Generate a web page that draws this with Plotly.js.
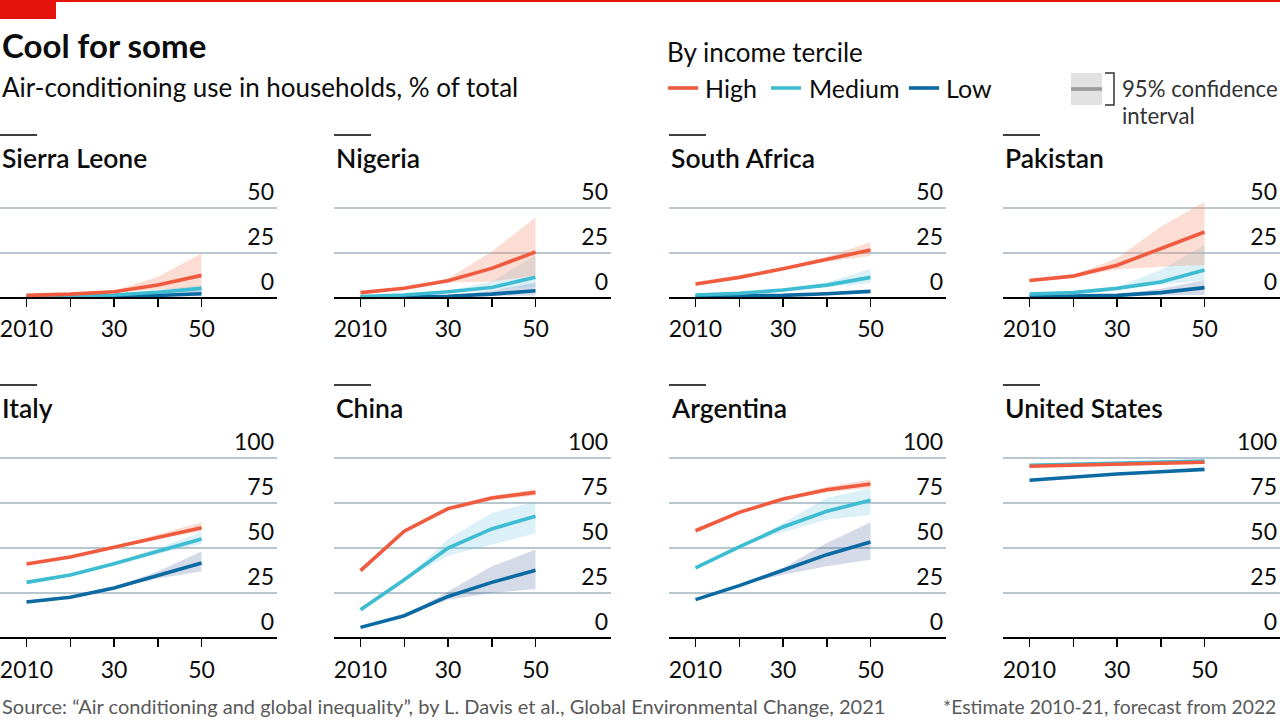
<!DOCTYPE html>
<html>
<head>
<meta charset="utf-8">
<script src="https://cdn.plot.ly/plotly-3.0.1.min.js"></script>
<style>
html,body{margin:0;padding:0;background:#fff;}
#chart{width:1280px;height:720px;}
</style>
</head>
<body>
<div id="chart"></div>
<script>
// ---------- DATA ----------
const years = [2010, 2020, 2030, 2040, 2050];
const xTickVals = [2010, 2020, 2030, 2040, 2050];
const xTickText = ['2010', '', '30', '', '50'];
const countries = ['Sierra Leone', 'Nigeria', 'South Africa', 'Pakistan', 'Italy', 'China', 'Argentina', 'United States'];
const terciles = ['High', 'Medium', 'Low'];

// Sierra Leone
const sierraHigh = [1.3, 2, 3.3, 7, 12.4];
const sierraHighLo = [1.3, 2, 3, 4.5, 5.5];
const sierraHighHi = [1.3, 2, 3.9, 11.7, 24.6];
const sierraMed = [0.8, 1, 1.5, 3, 5.2];
const sierraMedLo = [0.8, 1, 1.2, 2, 3.3];
const sierraMedHi = [0.8, 1, 1.8, 4.5, 7];
const sierraLow = [0.3, 0.4, 0.6, 1.2, 2.2];
const sierraLowLo = [0.3, 0.4, 0.4, 0.6, 0.8];
const sierraLowHi = [0.3, 0.4, 0.8, 2.8, 6];
// Nigeria
const nigeriaHigh = [2.8, 5.2, 9.4, 16.3, 25.4];
const nigeriaHighLo = [2.8, 5.2, 8.5, 9, 12];
const nigeriaHighHi = [2.8, 5.2, 10.7, 25.6, 44.4];
const nigeriaMed = [0.6, 1.5, 3.3, 5.7, 11.3];
const nigeriaMedLo = [0.6, 1.5, 3, 4.5, 6];
const nigeriaMedHi = [0.6, 1.5, 3.8, 9, 23.7];
const nigeriaLow = [0.2, 0.3, 0.8, 2, 3.9];
const nigeriaLowLo = [0.2, 0.3, 0.5, 1, 1.2];
const nigeriaLowHi = [0.2, 0.3, 1.2, 4, 8.3];
// South Africa
const safricaHigh = [7.6, 11.3, 16.1, 21.3, 26.5];
const safricaHighLo = [7.6, 11.3, 16, 20, 23.1];
const safricaHighHi = [7.6, 11.3, 16.4, 22.8, 30.9];
const safricaMed = [1.5, 2.4, 4.3, 7, 11.3];
const safricaMedLo = [1.5, 2.4, 4, 5.8, 8];
const safricaMedHi = [1.5, 2.4, 4.8, 8.5, 16.1];
const safricaLow = [0.7, 0.8, 1.3, 2.2, 3.5];
const safricaLowLo = [0.7, 0.8, 1.1, 1.8, 2.8];
const safricaLowHi = [0.7, 0.8, 1.5, 2.7, 4.3];
// Pakistan
const pakistanHigh = [9.6, 12, 18, 27.4, 36.5];
const pakistanHighLo = [9.6, 11.5, 15.7, 17.2, 18.1];
const pakistanHighHi = [9.6, 12.5, 21.9, 39.4, 53.3];
const pakistanMed = [2, 2.8, 5.2, 8.7, 15.4];
const pakistanMedLo = [2, 2.8, 4.6, 7, 9.8];
const pakistanMedHi = [2, 2.8, 6, 15.4, 29.3];
const pakistanLow = [0.5, 0.7, 1.3, 2.8, 5.6];
const pakistanLowLo = [0.5, 0.7, 1, 1.3, 1.5];
const pakistanLowHi = [0.5, 0.7, 1.8, 5, 9.8];
// Italy
const italyHigh = [41.1, 45, 50.4, 56.1, 61.3];
const italyHighLo = [41.1, 45, 50.2, 55, 59.3];
const italyHighHi = [41.1, 45, 50.8, 57.5, 64.3];
const italyMed = [30.9, 35, 41.3, 48.1, 55];
const italyMedLo = [30.9, 35, 41, 46.5, 52.4];
const italyMedHi = [30.9, 35, 41.8, 50, 58.7];
const italyLow = [20, 22.6, 27.8, 34.6, 41.7];
const italyLowLo = [20, 22.6, 27.5, 33, 37];
const italyLowHi = [20, 22.6, 28.3, 37, 48.1];
// China
const chinaHigh = [37.4, 59.3, 71.9, 77.8, 80.9];
const chinaHighLo = [37.4, 59.3, 70.5, 76.5, 79.2];
const chinaHighHi = [37.4, 59.3, 73, 79, 82.5];
const chinaMed = [15.7, 32.4, 50, 60.6, 67.6];
const chinaMedLo = [15.7, 32.4, 45.7, 51.9, 58];
const chinaMedHi = [15.7, 32.4, 55, 69.4, 75.9];
const chinaLow = [5.9, 12.4, 23.1, 30.9, 37.6];
const chinaLowLo = [5.9, 12.4, 21.3, 25, 27.2];
const chinaLowHi = [5.9, 12.4, 25.9, 39.8, 49.1];
// Argentina
const argentinaHigh = [59.6, 69.8, 77.2, 82.4, 85.6];
const argentinaHighLo = [59.6, 69.8, 76.5, 80.8, 83.3];
const argentinaHighHi = [59.6, 69.8, 78, 84, 88];
const argentinaMed = [38.9, 50.6, 61.7, 70.4, 76.5];
const argentinaMedLo = [38.9, 50.6, 58.7, 65.7, 68.5];
const argentinaMedHi = [38.9, 50.6, 63.9, 77.8, 83.3];
const argentinaLow = [21.3, 29.1, 37.6, 46.3, 53.3];
const argentinaLowLo = [21.3, 29.1, 35.2, 39.8, 43.5];
const argentinaLowHi = [21.3, 29.1, 38.9, 52.8, 64.3];
// United States
const usHigh = [95.4, 96, 96.5, 97, 97.6];
const usHighLo = [95.4, 96, 96.3, 96.7, 97.2];
const usHighHi = [95.4, 96, 96.7, 97.3, 98];
const usMed = [95.9, 96.5, 97.1, 97.7, 98.3];
const usMedLo = [95.9, 96.5, 96.9, 97.4, 97.9];
const usMedHi = [95.9, 96.5, 97.3, 98, 98.7];
const usLow = [87.6, 89.4, 91.1, 92.4, 93.7];
const usLowLo = [87.6, 89.4, 90.8, 92, 93.1];
const usLowHi = [87.6, 89.4, 91.4, 92.8, 94.3];

const topTicks = [0, 25, 50];
const bottomTicks = [0, 25, 50, 75, 100];

// ---------- BUILD ----------
const panels = [
  [sierraHigh, sierraHighLo, sierraHighHi, sierraMed, sierraMedLo, sierraMedHi, sierraLow, sierraLowLo, sierraLowHi],
  [nigeriaHigh, nigeriaHighLo, nigeriaHighHi, nigeriaMed, nigeriaMedLo, nigeriaMedHi, nigeriaLow, nigeriaLowLo, nigeriaLowHi],
  [safricaHigh, safricaHighLo, safricaHighHi, safricaMed, safricaMedLo, safricaMedHi, safricaLow, safricaLowLo, safricaLowHi],
  [pakistanHigh, pakistanHighLo, pakistanHighHi, pakistanMed, pakistanMedLo, pakistanMedHi, pakistanLow, pakistanLowLo, pakistanLowHi],
  [italyHigh, italyHighLo, italyHighHi, italyMed, italyMedLo, italyMedHi, italyLow, italyLowLo, italyLowHi],
  [chinaHigh, chinaHighLo, chinaHighHi, chinaMed, chinaMedLo, chinaMedHi, chinaLow, chinaLowLo, chinaLowHi],
  [argentinaHigh, argentinaHighLo, argentinaHighHi, argentinaMed, argentinaMedLo, argentinaMedHi, argentinaLow, argentinaLowLo, argentinaLowHi],
  [usHigh, usHighLo, usHighHi, usMed, usMedLo, usMedHi, usLow, usLowLo, usLowHi]
];

const W = 1280, H = 720;
const FONT = 'Lato, "Noto Sans", sans-serif';
const INK = '#0c0c0c';
const lineColors = {High: '#F05A3E', Medium: '#3EBCD2', Low: '#0B6AA2'};
const bandColors = {High: 'rgba(247,150,120,0.32)', Medium: 'rgba(110,200,225,0.25)', Low: 'rgba(60,85,150,0.22)'};
const colLeft = [0, 334, 669, 1003];
const panelW = 277;
const pxPerYear = 175 / 40;
const pxPerUnit = 1.8;
const rowZero = [297.7, 638];
const rowTop = [70, 118];
const rowBottom = -3;

const px = x => x / W;
const py = y => 1 - y / H;

const data = [];
const layout = {
  width: W, height: H,
  margin: {l: 0, r: 0, t: 0, b: 0},
  paper_bgcolor: '#fff', plot_bgcolor: 'rgba(0,0,0,0)',
  showlegend: false,
  font: {family: FONT, color: INK},
  shapes: [], annotations: []
};

panels.forEach((p, i) => {
  const row = Math.floor(i / 4), col = i % 4;
  const n = i + 1;
  const xa = 'x' + (n === 1 ? '' : n), ya = 'y' + (n === 1 ? '' : n);
  const xKey = 'xaxis' + (n === 1 ? '' : n), yKey = 'yaxis' + (n === 1 ? '' : n);
  const left = colLeft[col];
  const y0 = rowZero[row];
  const yTopPx = y0 - rowTop[row] * pxPerUnit;
  const yBotPx = y0 - rowBottom * pxPerUnit;
  const xMin = 2010 - 26.5 / pxPerYear;
  const xMax = xMin + panelW / pxPerYear;

  layout[xKey] = {
    domain: [px(left), px(left + panelW)],
    range: [xMin, xMax],
    anchor: 'free', position: py(y0),
    showgrid: false, zeroline: false,
    showline: true, linecolor: '#000', linewidth: 2,
    ticks: 'outside', ticklen: 8, tickwidth: 1.5, tickcolor: '#000',
    tickvals: xTickVals, ticktext: xTickText,
    tickfont: {family: FONT, size: 23, color: INK},
    ticklabelstandoff: 3,
    ticklabeloverflow: 'allow',
    fixedrange: true
  };
  layout[yKey] = {
    domain: [py(yBotPx), py(yTopPx)],
    range: [rowBottom, rowTop[row]],
    anchor: xa, side: 'right',
    showgrid: true, gridcolor: '#B7C6CF', gridwidth: 1.6,
    zeroline: false, showline: false, ticks: '',
    tickvals: row === 0 ? topTicks : bottomTicks,
    ticktext: (row === 0 ? topTicks : bottomTicks).map(String),
    ticklabelposition: 'inside top',
    ticklabeloverflow: 'allow',
    tickfont: {family: FONT, size: 23, color: INK},
    fixedrange: true
  };

  const [hi, hiLo, hiHi, md, mdLo, mdHi, lo, loLo, loHi] = p;
  const bands = [['Low', loLo, loHi], ['Medium', mdLo, mdHi], ['High', hiLo, hiHi]];
  bands.forEach(([name, a, b]) => {
    data.push({x: years, y: a, xaxis: xa, yaxis: ya, type: 'scatter', mode: 'lines',
      line: {width: 0, color: 'rgba(0,0,0,0)'}, hoverinfo: 'skip'});
    data.push({x: years, y: b, xaxis: xa, yaxis: ya, type: 'scatter', mode: 'lines',
      line: {width: 0, color: 'rgba(0,0,0,0)'}, fill: 'tonexty', fillcolor: bandColors[name], hoverinfo: 'skip'});
  });
  const lines = [['Low', lo], ['Medium', md], ['High', hi]];
  lines.forEach(([name, v]) => {
    data.push({x: years, y: v, xaxis: xa, yaxis: ya, type: 'scatter', mode: 'lines', name: name,
      line: {width: 3.6, color: lineColors[name]}});
  });

  // panel title + short rule
  const titleY = row === 0 ? 158 : 408;
  layout.shapes.push({type: 'line', xref: 'paper', yref: 'paper',
    x0: px(left), x1: px(left + 37), y0: py(titleY - 23), y1: py(titleY - 23),
    line: {color: '#000', width: 1.6}});
  layout.annotations.push({xref: 'paper', yref: 'paper', x: px(left), y: py(titleY),
    xanchor: 'left', yanchor: 'middle', showarrow: false, text: countries[i],
    font: {family: FONT, size: 26.5, color: INK, weight: 600}});
});

// top red rule and tag
layout.shapes.push({type: 'rect', xref: 'paper', yref: 'paper', x0: 0, x1: 1, y0: py(2), y1: 1,
  line: {width: 0}, fillcolor: '#E3120B'});
layout.shapes.push({type: 'rect', xref: 'paper', yref: 'paper', x0: 0, x1: px(56), y0: py(19), y1: 1,
  line: {width: 0}, fillcolor: '#E3120B'});

// headline
layout.annotations.push({xref: 'paper', yref: 'paper', x: 0, y: py(45), xanchor: 'left', yanchor: 'middle',
  showarrow: false, text: 'Cool for some', font: {family: FONT, size: 33, color: INK, weight: 700}});
layout.annotations.push({xref: 'paper', yref: 'paper', x: 0, y: py(87), xanchor: 'left', yanchor: 'middle',
  showarrow: false, text: 'Air-conditioning use in households, % of total', font: {family: FONT, size: 26, color: INK}});

// legend
layout.annotations.push({xref: 'paper', yref: 'paper', x: px(665), y: py(52), xanchor: 'left', yanchor: 'middle',
  showarrow: false, text: 'By income tercile', font: {family: FONT, size: 26, color: INK}});
const legItems = [['High', 668, 705], ['Medium', 771, 809], ['Low', 909, 946]];
legItems.forEach(([name, lx, tx]) => {
  layout.shapes.push({type: 'line', xref: 'paper', yref: 'paper', x0: px(lx), x1: px(lx + 30), y0: py(88), y1: py(88),
    line: {color: lineColors[name], width: 3.6}});
  layout.annotations.push({xref: 'paper', yref: 'paper', x: px(tx - 2), y: py(88), xanchor: 'left', yanchor: 'middle',
    showarrow: false, text: name, font: {family: FONT, size: 25, color: INK}});
});
layout.shapes.push({type: 'rect', xref: 'paper', yref: 'paper', x0: px(1071), x1: px(1102), y0: py(105), y1: py(73),
  line: {width: 0}, fillcolor: '#E2E2E2'});
layout.shapes.push({type: 'line', xref: 'paper', yref: 'paper', x0: px(1071), x1: px(1102), y0: py(89), y1: py(89),
  line: {color: '#9A9A9A', width: 3.6}});
layout.shapes.push({type: 'path', xref: 'paper', yref: 'paper',
  path: `M ${px(1105)} ${py(73)} L ${px(1114)} ${py(73)} L ${px(1114)} ${py(105)} L ${px(1105)} ${py(105)}`,
  line: {color: '#333', width: 1.5}});
layout.annotations.push({xref: 'paper', yref: 'paper', x: px(1120), y: py(88), xanchor: 'left', yanchor: 'middle',
  showarrow: false, text: '95% confidence', font: {family: FONT, size: 22.2, color: '#333'}});
layout.annotations.push({xref: 'paper', yref: 'paper', x: px(1120), y: py(116), xanchor: 'left', yanchor: 'middle',
  showarrow: false, text: 'interval', font: {family: FONT, size: 22.2, color: '#333'}});

// footer
layout.annotations.push({xref: 'paper', yref: 'paper', x: 0, y: py(706), xanchor: 'left', yanchor: 'middle',
  showarrow: false, text: 'Source: “Air conditioning and global inequality”, by L. Davis et al., Global Environmental Change, 2021',
  font: {family: FONT, size: 20, color: '#595959'}});
layout.annotations.push({xref: 'paper', yref: 'paper', x: px(1278), y: py(706), xanchor: 'right', yanchor: 'middle',
  showarrow: false, text: '*Estimate 2010-21, forecast from 2022',
  font: {family: FONT, size: 19.3, color: '#595959'}});

Plotly.newPlot('chart', data, layout, {displayModeBar: false, staticPlot: true});
</script>
</body>
</html>
